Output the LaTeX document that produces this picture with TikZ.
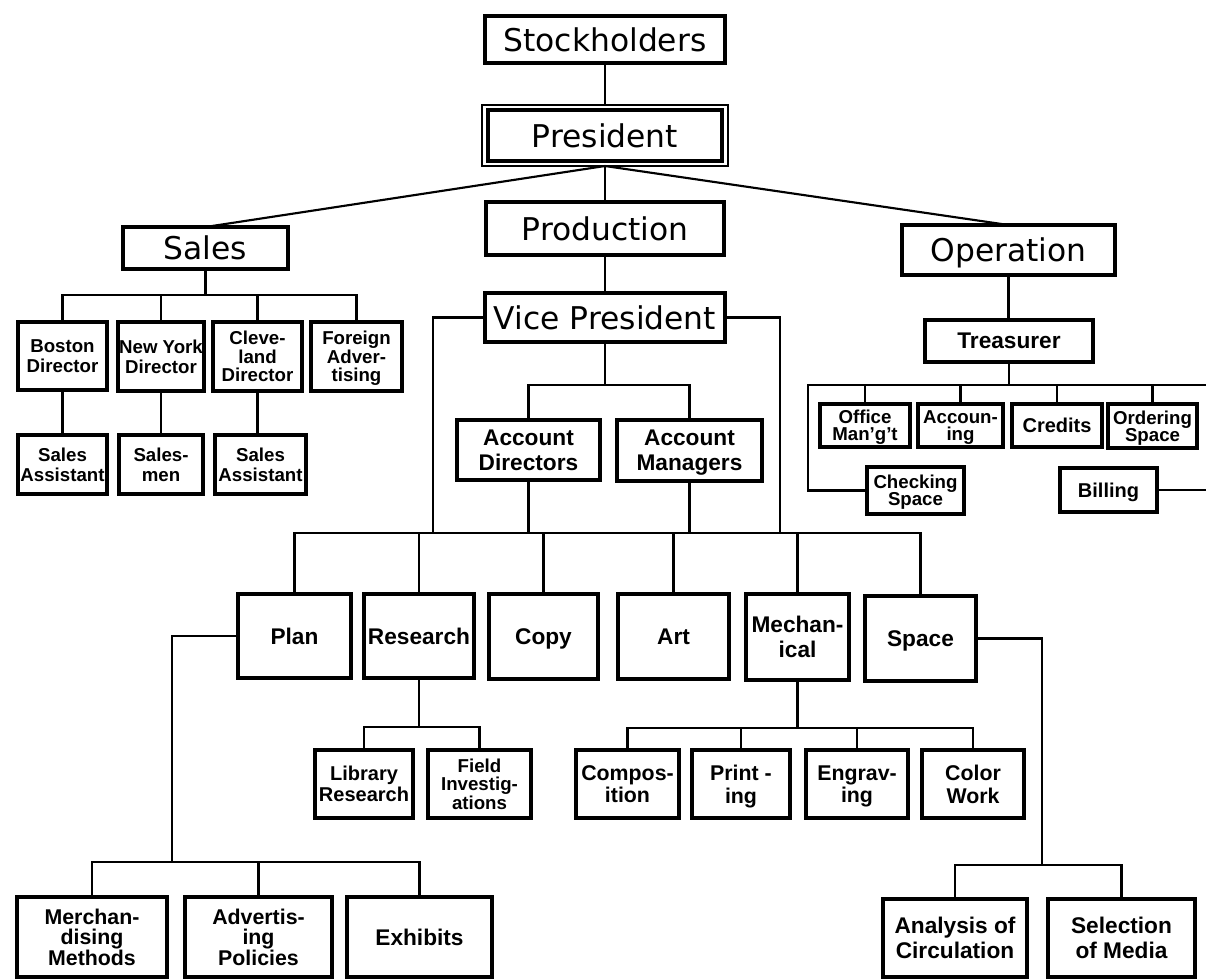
\documentclass[tikz,border=0pt]{standalone}
\usepackage{fontspec}
\setmainfont{Liberation Sans}
\newfontfamily\topfont{DejaVu Sans}
\newcommand{\pbox}[7][]{\node[box,#1,minimum width={(#5-#3)*0.75pt},minimum height={(#6-#4)*0.75pt}] (#2) at ({(#3+#5)/2},{(#4+#6)/2}) {#7};}
\tikzset{
  box/.style={draw=black,line width=2.3pt,inner sep=0pt,outer sep=0pt,align=center,fill=white,text depth=0pt},
  frame/.style={line width=1.1pt},
  conn/.style={draw=black,line width=1.6pt},
  topf/.style={font={\topfont\fontsize{23.5}{26}\selectfont}},
  lvl/.style={font={\bfseries\fontsize{17}{19}\selectfont}},
  lvlb/.style={font={\bfseries\fontsize{16}{17}\selectfont}},
  lvlc/.style={font={\bfseries\fontsize{15}{16}\selectfont}},
  smf/.style={font={\bfseries\fontsize{14}{15}\selectfont}},
  smt/.style={font={\bfseries\fontsize{14}{14}\selectfont}},
  opf/.style={font={\bfseries\fontsize{14}{13}\selectfont}},
  btm/.style={font={\bfseries\fontsize{16}{15.5}\selectfont}},
}
\begin{document}
\begin{tikzpicture}[x=0.75pt,y=-0.75pt]
\useasboundingbox (0,0) rectangle (1206,979);
% top column
\pbox[topf]{stock}{485}{16}{725}{63}{Stockholders}
\pbox[frame]{presout}{482}{105}{728}{166}{}
\pbox[topf]{pres}{488}{110}{722}{161}{President}
\pbox[topf]{prod}{486}{202}{724}{255}{Production}
\pbox[topf]{sales}{123}{227}{288}{269}{Sales}
\pbox[topf]{oper}{902}{225}{1115}{275}{Operation}
\pbox[topf]{vp}{485}{293}{725}{342}{Vice President}
% sales
\pbox[smf]{bos}{18}{322}{107}{390}{Boston\\Director}
\pbox[smf]{ny}{118}{322}{204}{391}{New York\\Director}
\pbox[smt]{cle}{213}{322}{302}{391}{Cleve-\\land\\Director}
\pbox[smt]{fora}{311}{322}{402}{391}{Foreign\\Adver-\\tising}
\pbox[smf]{sa1}{18}{435}{107}{494}{Sales\\Assistant}
\pbox[smf]{smen}{119}{435}{203}{494}{Sales-\\men}
\pbox[smf]{sa2}{215}{435}{306}{494}{Sales\\Assistant}
% operation
\pbox[lvl]{treas}{925}{320}{1093}{362}{Treasurer}
\pbox[opf]{office}{820}{404}{910}{447}{Office\\Man'g't}
\pbox[opf]{acct}{918}{404}{1003}{447}{Accoun-\\ing}
\pbox[lvlc]{cred}{1012}{404}{1102}{447}{Credits}
\pbox[opf]{order}{1108}{404}{1197}{448}{Ordering\\Space}
\pbox[opf]{check}{867}{467}{964}{514}{Checking\\Space}
\pbox[lvlc]{bill}{1060}{468}{1157}{512}{Billing}
% account
\pbox[lvl]{ad}{457}{420}{600}{480}{Account\\Directors}
\pbox[lvl]{am}{617}{420}{762}{481}{Account\\Managers}
% departments
\pbox[lvl]{plan}{238}{594}{351}{678}{Plan}
\pbox[lvl]{research}{364}{594}{474}{678}{Research}
\pbox[lvl]{copy}{489}{594}{598}{679}{Copy}
\pbox[lvl]{art}{618}{594}{729}{679}{Art}
\pbox[lvl]{mech}{746}{594}{849}{680}{Mechan-\\ical}
\pbox[lvl]{space}{865}{596}{976}{681}{Space}
% research children
\pbox[lvlc]{lib}{315}{750}{413}{818}{Library\\Research}
\pbox[smt]{field}{428}{750}{531}{818}{Field\\Investig-\\ations}
% mechanical children
\pbox[lvlb]{comp}{576}{750}{679}{818}{Compos-\\ition}
\pbox[lvlb]{print}{692}{750}{790}{818}{Print -\\ing}
\pbox[lvlb]{engr}{806}{750}{908}{818}{Engrav-\\ing}
\pbox[lvlb]{color}{922}{750}{1024}{818}{Color\\Work}
% bottom
\pbox[btm]{merch}{17}{897}{167}{977}{Merchan-\\dising\\Methods}
\pbox[btm]{adv}{185}{897}{332}{977}{Advertis-\\ing\\Policies}
\pbox[lvl]{exh}{347}{897}{492}{977}{Exhibits}
\pbox[lvl]{anal}{883}{899}{1027}{977}{Analysis of\\Circulation}
\pbox[lvl]{sel}{1048}{899}{1195}{977}{Selection\\of Media}
% coordinates
\coordinate (sbus) at (205,295);
\coordinate (obus) at (1009,385);
\coordinate (oL) at (808,385);
\coordinate (oR) at (1206,385);
\coordinate (bR) at (1206,490);
\coordinate (vL) at (433,317);
\coordinate (vR) at (780,317);
\coordinate (abus) at (605,385);
\coordinate (mbus) at (605,533);
\coordinate (rbus) at (419,727);
\coordinate (mebus) at (797,728);
\coordinate (pL) at (172,636);
\coordinate (pbus) at (172,862);
\coordinate (sR) at (1042,638);
\coordinate (spbus) at (1042,865);
% connectors
\begin{scope}[conn]
\draw (stock.south) -- (presout.north);
\draw (presout.south) -- (sales.north);
\draw (presout.south) -- (oper.north);
\draw (presout.south) -- (prod.north);
\draw (prod.south) -- (vp.north);
% sales
\draw (sales.south) -- (sales.south |- sbus);
\draw (bos.north) -- (bos.north |- sbus) -| (fora.north);
\draw (ny.north) -- (ny.north |- sbus);
\draw (cle.north) -- (cle.north |- sbus);
\draw (bos.south) -- (bos.south |- sa1.north);
\draw (ny.south) -- (ny.south |- smen.north);
\draw (cle.south) -- (cle.south |- sa2.north);
% operation
\draw (oper.south) -- (oper.south |- treas.north);
\draw (treas.south) -- (treas.south |- obus);
\draw (oR) -- (oL) |- (check.west);
\draw (office.north) -- (office.north |- obus);
\draw (acct.north) -- (acct.north |- obus);
\draw (cred.north) -- (cred.north |- obus);
\draw (order.north) -- (order.north |- obus);
\draw (bill.east) -- (bill.east -| bR);
% vice president
\draw (vp.west) -- (vp.west -| vL) -- (vL |- mbus);
\draw (vp.east) -- (vp.east -| vR) -- (vR |- mbus);
\draw (vp.south) -- (vp.south |- abus);
\draw (ad.north) -- (ad.north |- abus) -| (am.north);
\draw (ad.south) -- (ad.south |- mbus);
\draw (am.south) -- (am.south |- mbus);
% departments
\draw (plan.north) -- (plan.north |- mbus) -| (space.north);
\draw (research.north) -- (research.north |- mbus);
\draw (copy.north) -- (copy.north |- mbus);
\draw (art.north) -- (art.north |- mbus);
\draw (mech.north) -- (mech.north |- mbus);
% research
\draw (research.south) -- (research.south |- rbus);
\draw (lib.north) -- (lib.north |- rbus) -| (field.north);
% mechanical
\draw (mech.south) -- (mech.south |- mebus);
\draw (comp.north) -- (comp.north |- mebus) -| (color.north);
\draw (print.north) -- (print.north |- mebus);
\draw (engr.north) -- (engr.north |- mebus);
% plan
\draw (plan.west) -- (plan.west -| pL) -- (pbus);
\draw (merch.north) -- (merch.north |- pbus) -| (exh.north);
\draw (adv.north) -- (adv.north |- pbus);
% space
\draw (space.east) -- (space.east -| sR) -- (spbus);
\draw (anal.north) -- (anal.north |- spbus) -| (sel.north);
\end{scope}
\end{tikzpicture}
\end{document}
